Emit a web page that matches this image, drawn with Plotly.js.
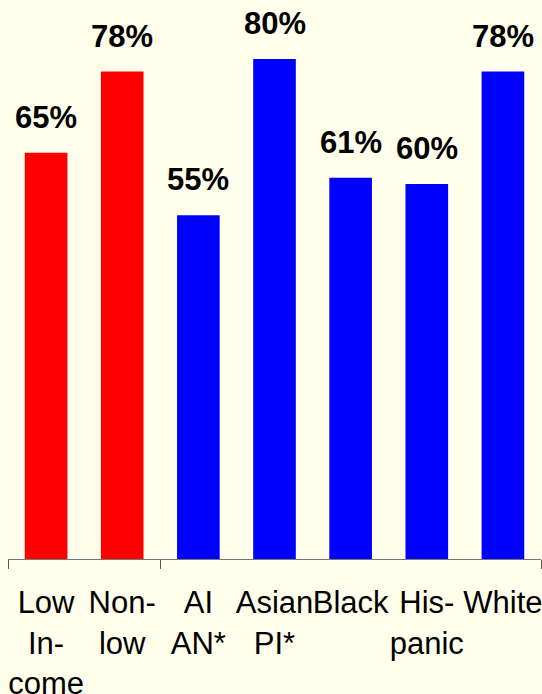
<!DOCTYPE html>
<html>
<head>
<meta charset="utf-8">
<script src="https://cdn.plot.ly/plotly-3.0.1.min.js"></script>
<style>html,body{margin:0;padding:0;background:#FFFFEB;}</style>
</head>
<body>
<div id="chart" style="width:542px;height:694px;"></div>
<script>
const categories = ['Low Income', 'Non-low', 'AI AN*', 'Asian PI*', 'Black', 'Hispanic', 'White'];
const tickLabels = ['Low<br>In-<br>come', 'Non-<br>low', 'AI<br>AN*', 'Asian<br>PI*', 'Black', 'His-<br>panic', 'White'];
const values = [65, 78, 55, 80, 61, 60, 78];
const groups = ['Income', 'Income', 'Race', 'Race', 'Race', 'Race', 'Race'];
const groupDividers = [-0.5, 1.5, 6.5];

const groupColors = {Income: '#FF0000', Race: '#0000FF'};
const font = 'Arial, "Liberation Sans", sans-serif';

const trace = {
  type: 'bar',
  x: categories,
  y: values,
  width: 0.56,
  marker: {color: groups.map(g => groupColors[g])},
  hoverinfo: 'none'
};

const annotations = categories.map((c, i) => ({
  x: c, y: values[i], xref: 'x', yref: 'y',
  text: '<b>' + values[i] + '%</b>',
  showarrow: false, yanchor: 'bottom', yshift: 16,
  font: {family: font, size: 31, color: '#000'}
}));

const layout = {
  width: 542, height: 694,
  margin: {l: 8, r: 1, t: 0, b: 135},
  paper_bgcolor: '#FFFFEB', plot_bgcolor: '#FFFFEB',
  showlegend: false,
  xaxis: {
    type: 'category', range: [-0.5, 6.5],
    tickmode: 'array', tickvals: categories, ticktext: tickLabels,
    tickangle: 0, automargin: false, ticklabelstandoff: 16,
    ticks: '', showline: true, linecolor: '#777', linewidth: 1,
    tickfont: {family: font, size: 31, color: '#000'},
    showgrid: false, zeroline: false, fixedrange: true
  },
  xaxis2: {
    overlaying: 'x', matching: 'x', type: 'linear', range: [-0.5, 6.5],
    tickmode: 'array', tickvals: groupDividers, ticks: 'outside', ticklen: 9,
    tickcolor: '#555', tickwidth: 1, showticklabels: false, showgrid: false,
    zeroline: false, side: 'bottom'
  },
  yaxis: {
    range: [0, 89.44], visible: false, showgrid: false, zeroline: false, fixedrange: true
  },
  annotations: annotations
};

const divTrace = {type: 'scatter', x: [], y: [], xaxis: 'x2', yaxis: 'y', hoverinfo: 'none'};

Plotly.newPlot('chart', [trace, divTrace], layout, {displayModeBar: false, staticPlot: true});
</script>
</body>
</html>
